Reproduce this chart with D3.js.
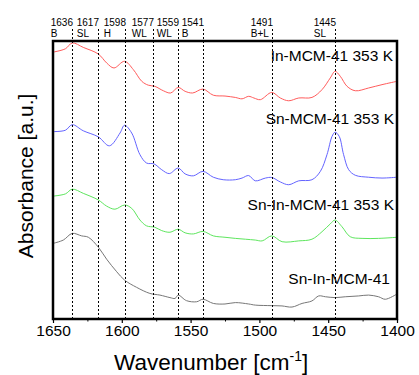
<!DOCTYPE html>
<html>
<head>
<meta charset="utf-8">
<script src="https://cdn.jsdelivr.net/npm/d3@7"></script>
<style>
  body { margin: 0; background: #fff; }
  text { font-family: "Liberation Sans", Arial, sans-serif; fill: #000; }
</style>
</head>
<body>
<script>
// band positions marked on top of the plot
let bandWn = [1636, 1617, 1598, 1577, 1559, 1541, 1491, 1445];
let bandLabels = ['B', 'SL', 'H', 'WL', 'WL', 'B', 'B+L', 'SL'];

let xTicks = [1650, 1600, 1550, 1500, 1450, 1400];
let xMinor = [1625, 1575, 1525, 1475, 1425];

// spectra (absorbance in arbitrary units, offset already applied)
let inWn = [1650, 1641, 1636, 1628, 1617, 1611, 1605.7, 1598, 1591.6, 1585.5, 1580.7, 1576, 1569.8, 1564.5, 1559, 1554, 1548.5, 1541, 1533.5, 1525, 1517.5, 1512.6, 1507.8, 1504, 1499.3, 1491, 1484.8, 1478.7, 1471.4, 1461.8, 1454.5, 1448.5, 1445, 1441.2, 1436.3, 1430.3, 1420.6, 1410.9, 1400];
let inAbs = [96.0, 97.2, 99.3, 97.7, 95.3, 92.1, 90.3, 92.7, 89.7, 85.5, 84.1, 83.7, 82.1, 81.3, 83.3, 81.9, 81.3, 82.7, 80.5, 80.2, 79.7, 79.2, 80.1, 79.5, 78.9, 81.5, 79.5, 78.5, 79.5, 79.7, 82.5, 86.7, 89.1, 87.3, 83.7, 82.1, 83.1, 84.3, 85.5];

let snWn = [1650, 1641, 1636, 1628, 1617, 1609, 1601.3, 1598, 1592.8, 1586.8, 1582, 1576.6, 1571, 1565.5, 1559, 1554, 1548, 1541, 1533.5, 1526.3, 1517.5, 1512.6, 1507.8, 1503, 1495.6, 1491, 1484.8, 1478.7, 1471.4, 1461.8, 1455.7, 1450.9, 1447.2, 1445, 1442, 1438.8, 1435.1, 1430.3, 1420.6, 1410.9, 1400];
let snAbs = [67.4, 67.9, 69.9, 67.7, 65.5, 62.3, 66.9, 69.7, 66.9, 59.1, 56.1, 55.8, 53.7, 52.3, 54.3, 52.2, 51.5, 53.1, 51.0, 50.1, 50.1, 50.7, 51.6, 49.7, 50.7, 50.9, 49.3, 48.3, 49.7, 50.1, 53.1, 59.1, 65.7, 67.2, 65.7, 59.1, 53.7, 51.7, 51.0, 50.7, 51.0];

let snInWn = [1650, 1641, 1636, 1628, 1617, 1611, 1605, 1598, 1592.8, 1586.8, 1582, 1576, 1571, 1565, 1559, 1554, 1548, 1541, 1533.5, 1525, 1517.5, 1510.2, 1503, 1498, 1491, 1483.5, 1471.4, 1461.8, 1454.5, 1448.5, 1445, 1440, 1434, 1425.4, 1413.4, 1400];
let snInAbs = [44.2, 45.0, 46.7, 45.2, 42.8, 40.6, 39.5, 41.0, 39.8, 35.6, 33.5, 33.0, 31.8, 31.2, 32.3, 31.0, 30.6, 31.5, 29.9, 29.4, 29.0, 28.7, 28.4, 28.1, 29.9, 27.8, 28.1, 28.7, 31.4, 34.2, 35.6, 33.2, 29.6, 29.0, 29.0, 29.4];

let freshWn = [1650, 1642.5, 1636, 1629.2, 1624.3, 1617, 1611, 1603.7, 1598, 1589.3, 1579.6, 1572.3, 1565, 1561.3, 1559, 1553, 1545.6, 1541, 1533.5, 1525, 1517.5, 1507.8, 1503, 1491, 1483.6, 1476.3, 1469, 1461.8, 1456.9, 1452, 1445, 1437.6, 1427.8, 1420.6, 1413.4, 1408.5, 1400];
let freshAbs = [27.2, 28.4, 30.8, 29.9, 29.4, 25.8, 21.5, 17.0, 14.0, 11.4, 9.2, 8.6, 7.7, 7.4, 8.6, 6.6, 6.2, 7.1, 5.6, 5.4, 5.9, 5.4, 5.0, 4.8, 4.7, 4.3, 5.6, 6.5, 8.3, 8.0, 7.7, 8.0, 8.3, 8.6, 8.0, 7.1, 9.0];

let seriesNames = ['In-MCM-41 353 K', 'Sn-MCM-41 353 K', 'Sn-In-MCM-41 353 K', 'Sn-In-MCM-41'];
let seriesColors = ['#ff5c5c', '#6464ff', '#5ee65e', '#777777'];
let labelY = [61, 124, 210, 284];
let labelX = [393, 394, 394, 390];

let width = 419;
let height = 375;
let margin = { top: 41, right: 22, bottom: 56, left: 53 };

const svg = d3.select('body').append('svg')
    .attr('width', width)
    .attr('height', height);

let x = d3.scaleLinear()
    .domain([1650, 1400])
    .range([margin.left, width - margin.right]);

let y = d3.scaleLinear()
    .domain([0, 100])
    .range([height - margin.bottom, margin.top]);

let series = [
  { wn: inWn, abs: inAbs },
  { wn: snWn, abs: snAbs },
  { wn: snInWn, abs: snInAbs },
  { wn: freshWn, abs: freshAbs }
];

let line = d3.line()
    .x(d => x(d[0]))
    .y(d => y(d[1]))
    .curve(d3.curveCatmullRom.alpha(0.5));

// curves, clipped to the frame
svg.append('clipPath').attr('id', 'clip')
  .append('rect')
    .attr('x', margin.left)
    .attr('y', margin.top)
    .attr('width', width - margin.left - margin.right)
    .attr('height', height - margin.top - margin.bottom);

svg.append('g').attr('clip-path', 'url(#clip)')
  .selectAll('path')
  .data(series)
  .join('path')
    .attr('d', s => line(d3.zip(s.wn, s.abs)))
    .attr('fill', 'none')
    .attr('stroke', (s, i) => seriesColors[i])
    .attr('stroke-width', 1);

// dashed band markers
svg.append('g')
  .selectAll('line')
  .data(bandWn)
  .join('line')
    .attr('x1', d => Math.round(x(d)) + 0.5)
    .attr('x2', d => Math.round(x(d)) + 0.5)
    .attr('y1', 29)
    .attr('y2', height - margin.bottom)
    .attr('stroke', '#000')
    .attr('stroke-width', 1)
    .attr('stroke-dasharray', '2,2');

let bandG = svg.append('g');
bandWn.forEach((d, i) => {
  let bx = Math.round(x(d)) + 1;
  let t = bandG.append('text')
      .attr('x', bx)
      .attr('y', 26)
      .attr('text-anchor', 'end')
      .style('font-size', '10px')
      .text(d);
  let w = t.node().getComputedTextLength();
  bandG.append('text')
      .attr('x', bx - w)
      .attr('y', 37)
      .style('font-size', '10px')
      .text(bandLabels[i]);
});

// series labels
svg.append('g')
  .selectAll('text')
  .data(seriesNames)
  .join('text')
    .attr('x', (d, i) => labelX[i])
    .attr('y', (d, i) => labelY[i])
    .attr('text-anchor', 'end')
    .style('font-size', '15.5px')
    .text(d => d);

// x axis
let xAxis = svg.append('g')
    .attr('transform', `translate(0,${height - margin.bottom})`)
    .call(d3.axisBottom(x).tickValues(xTicks).tickFormat(d3.format('d')).tickSize(4).tickPadding(1.5));
xAxis.select('.domain').remove();
xAxis.selectAll('line').attr('stroke-width', 1.2);
xAxis.selectAll('text')
    .style('font-size', '15.5px')
    .style('font-family', '"Liberation Sans", Arial, sans-serif');

let xAxisMinor = svg.append('g')
    .attr('transform', `translate(0,${height - margin.bottom})`)
    .call(d3.axisBottom(x).tickValues(xMinor).tickSize(2.5).tickFormat(''));
xAxisMinor.select('.domain').remove();

// frame
svg.append('rect')
    .attr('x', margin.left)
    .attr('y', margin.top)
    .attr('width', width - margin.left - margin.right)
    .attr('height', height - margin.top - margin.bottom)
    .attr('fill', 'none')
    .attr('stroke', '#000')
    .attr('stroke-width', 2.5);

// axis titles
let xt = svg.append('text')
    .attr('x', 114)
    .attr('y', 370)
    .style('font-size', '22.5px');
xt.append('tspan').text('Wavenumber [cm');
xt.append('tspan').attr('dy', -9).style('font-size', '14px').text('-1');
xt.append('tspan').attr('dy', 9).text(']');

svg.append('text')
    .attr('transform', 'translate(33,176) rotate(-90)')
    .attr('text-anchor', 'middle')
    .style('font-size', '21px')
    .text('Absorbance [a.u.]');
</script>
</body>
</html>
